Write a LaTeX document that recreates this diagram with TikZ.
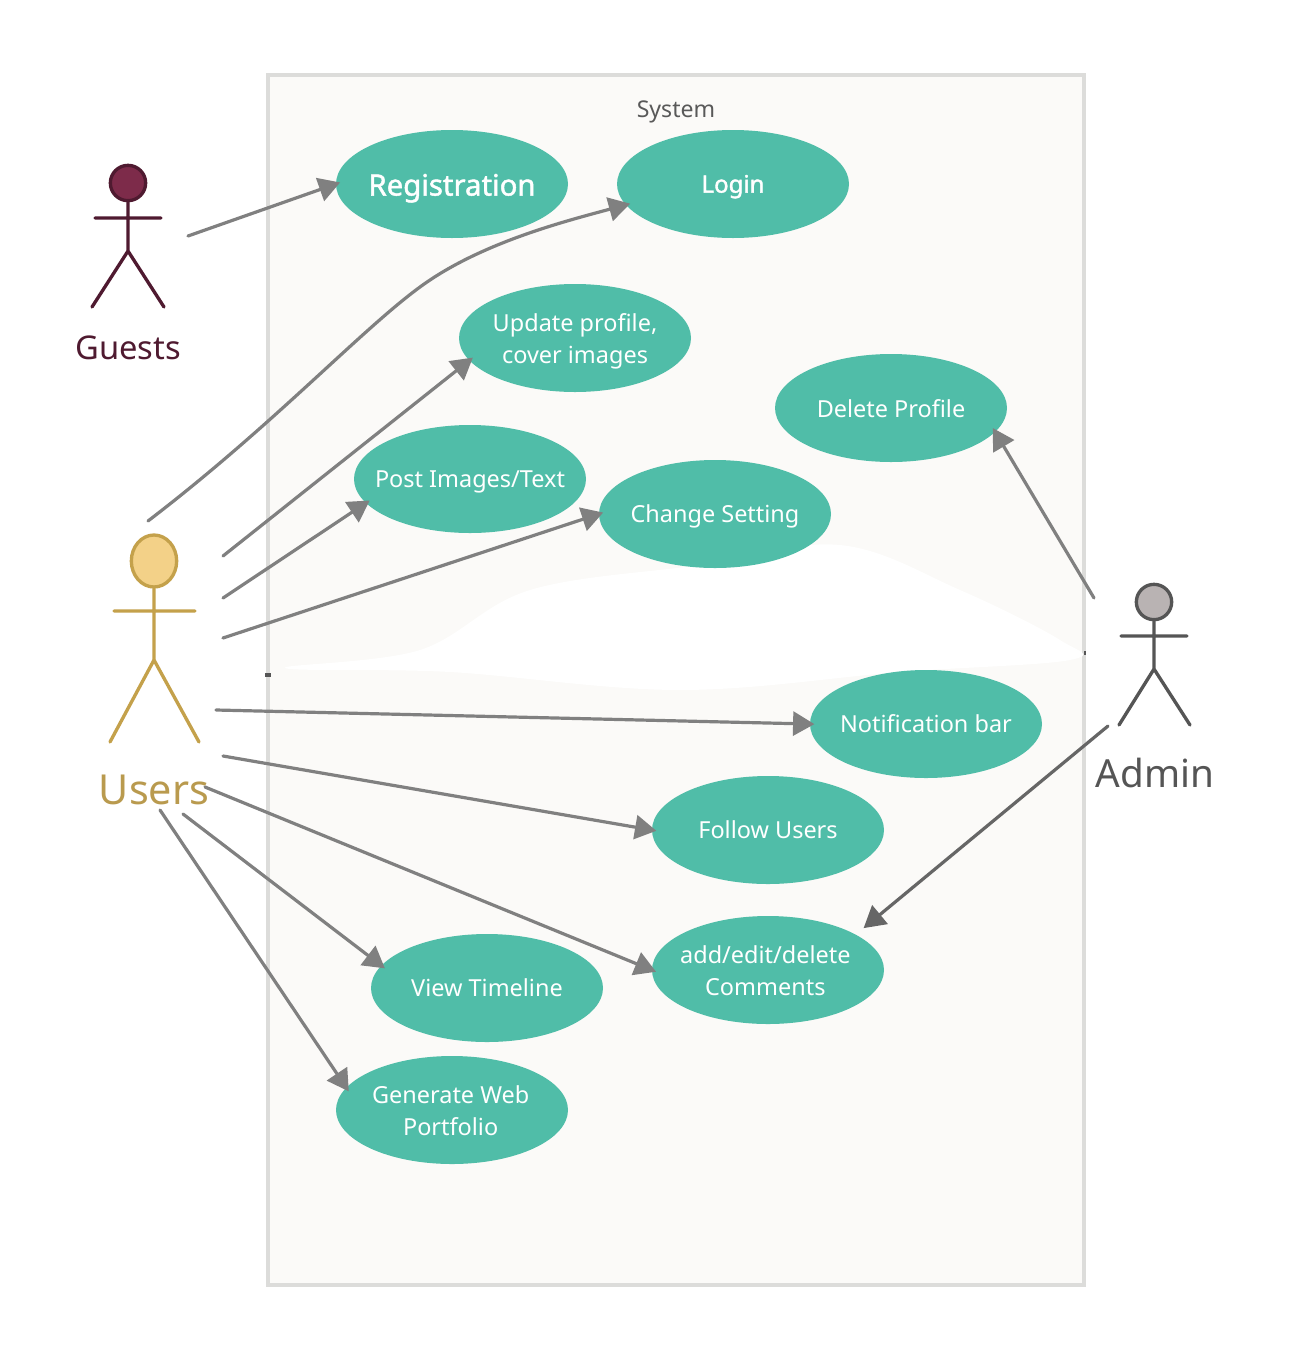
\documentclass[tikz,border=0pt]{standalone}
\usepackage{fontspec}
\setmainfont{Noto Sans}
\newfontfamily\ucstrong[FakeBold=1.5]{Noto Sans}
\usetikzlibrary{arrows.meta,shapes.geometric}
\definecolor{uc}{HTML}{50BDA8}
\definecolor{sysfill}{HTML}{FBFAF8}
\definecolor{sysline}{HTML}{DCDCDA}
\definecolor{arr}{HTML}{808080}
\definecolor{gfill}{HTML}{7D2B4A}
\definecolor{gline}{HTML}{4F1A30}
\definecolor{ufill}{HTML}{F3D188}
\definecolor{uline}{HTML}{C4A14B}
\definecolor{utext}{HTML}{B99A4E}
\definecolor{afill}{HTML}{B9B3B3}
\definecolor{aline}{HTML}{555555}
\tikzset{
  ucshape/.style={ellipse,fill=uc,minimum width=174pt,minimum height=81pt,inner sep=0pt},
  uctext/.style={text=white,align=center,font=\fontsize{17.6}{24}\selectfont,inner sep=0pt},
  link/.style={draw=arr,line width=2.4pt,line cap=round,shorten >=-3.5pt,-{Triangle[length=16pt,width=18pt]}},
  adminlink/.style={link,draw=aline!90!white,shorten >=7.5pt},
  actorpart/.style={line width=2.5pt,line cap=round},
  actorhead/.style={line width=2.5pt,inner sep=0pt},
}
\begin{document}
\begin{tikzpicture}[x=0.75pt,y=-0.75pt]
\useasboundingbox (0,0) rectangle (1289,1360);
\fill[white] (0,0) rectangle (1289,1360);
\node[draw=sysline,fill=sysfill,line width=2.6pt,minimum width=612pt,minimum height=907.5pt,inner sep=0pt] (sys) at (676,680) {};
\fill[white] plot[smooth cycle,tension=0.6] coordinates {(285,668) (420,650) (530,590) (700,565) (840,545) (960,590) (1060,640) (1070,660) (900,672) (680,690) (450,672)};
\node[fill=aline,minimum width=4pt,minimum height=3pt,inner sep=0pt] (tickl) at (268,675) {};
\node[fill=aline,minimum width=2pt,minimum height=3pt,inner sep=0pt] (tickr) at (1085,653) {};
\node[text=black!65,font=\fontsize{17.3}{20}\selectfont] (systitle) at (676,112) {System};

\node[ucshape,label={[uctext,font=\fontsize{22}{26}\ucstrong,yshift=-3.2pt]center:Registration}] (reg) at (452,184) {};
\node[ucshape,label={[uctext,font=\fontsize{18}{24}\ucstrong,yshift=-2pt]center:Login}] (login) at (733,184) {};
\node[ucshape,label={[uctext,yshift=-2.5pt]center:Update profile,\\cover images}] (upd) at (575,338) {};
\node[ucshape,label={[uctext,yshift=-0.7pt]center:Delete Profile}] (del) at (891,408) {};
\node[ucshape,label={[uctext,yshift=-2pt]center:Post Images/Text}] (post) at (470,479) {};
\node[ucshape,label={[uctext,yshift=-1.5pt]center:Change Setting}] (chg) at (715,514) {};
\node[ucshape,label={[uctext]center:Notification bar}] (notif) at (926,724) {};
\node[ucshape,label={[uctext]center:Follow Users}] (fol) at (768,830) {};
\node[ucshape,label={[uctext,xshift=-2pt,yshift=-0.5pt]center:add/edit/delete\\Comments}] (cmt) at (768,970) {};
\node[ucshape,label={[uctext]center:View Timeline}] (tl) at (487,988) {};
\node[ucshape,label={[uctext,xshift=-1pt,yshift=-0.5pt]center:Generate Web\\Portfolio}] (web) at (452,1110) {};

% Guests actor
\node[circle,actorhead,draw=gline,fill=gfill,minimum size=26.5pt] (ghead) at (128,183) {};
\coordinate (ghip) at (128,251);
\draw[actorpart,draw=gline] (ghead) -- (ghip) (95,218) -- (161,218) (92,307) -- (ghip) -- (164,307);
\node[text=gline,font=\fontsize{24.5}{28}\selectfont] (glabel) at (128,348) {Guests};
% Users actor
\node[ellipse,actorhead,draw=uline,fill=ufill,minimum width=34pt,minimum height=39pt] (uhead) at (154,561) {};
\coordinate (uhip) at (154,660);
\draw[actorpart,draw=uline] (uhead) -- (uhip) (114,611) -- (195,611) (110,742) -- (uhip) -- (199,742);
\node[text=utext,font=\fontsize{31}{36}\selectfont] (ulabel) at (154,790) {Users};
% Admin actor
\node[circle,actorhead,draw=aline,fill=afill,minimum size=26.5pt] (ahead) at (1154,602) {};
\coordinate (ahip) at (1154,669);
\draw[actorpart,draw=aline] (ahead) -- (ahip) (1121,636) -- (1187,636) (1119,725) -- (ahip) -- (1190,725);
\node[text=aline,font=\fontsize{29}{34}\selectfont] (alabel) at (1155,773) {Admin};

% free ends
\coordinate (g1) at (188,236);
\coordinate (u1) at (148,521);
\coordinate (u2) at (223,556);
\coordinate (u3) at (223,598);
\coordinate (u4) at (223,638);
\coordinate (u5) at (216,710);
\coordinate (u6) at (223,756);
\coordinate (u7) at (205,787);
\coordinate (u8) at (183,814);
\coordinate (u9) at (160,810);
\coordinate (a1) at (1094,598);
\coordinate (a2) at (1108,726);

\draw[link] (g1) -- (reg.west);
\draw[link] (u1) .. controls (280,420) and (370,320) .. (430,280) .. controls (490,240) and (570,220) .. (login.191);
\draw[link] (u2) -- (upd.192);
\draw[link] (u3) -- (post.193);
\draw[link] (u4) -- (chg.west);
\draw[link] (u5) -- (notif.west);
\draw[link] (u6) -- (fol.west);
\draw[link] (u7) -- (cmt.west);
\draw[link] (u8) -- (tl.168);
\draw[link] (u9) -- (web.168);
\draw[link] (a1) -- (del.347);
\draw[adminlink] (a2) -- (cmt.22);
\end{tikzpicture}
\end{document}
